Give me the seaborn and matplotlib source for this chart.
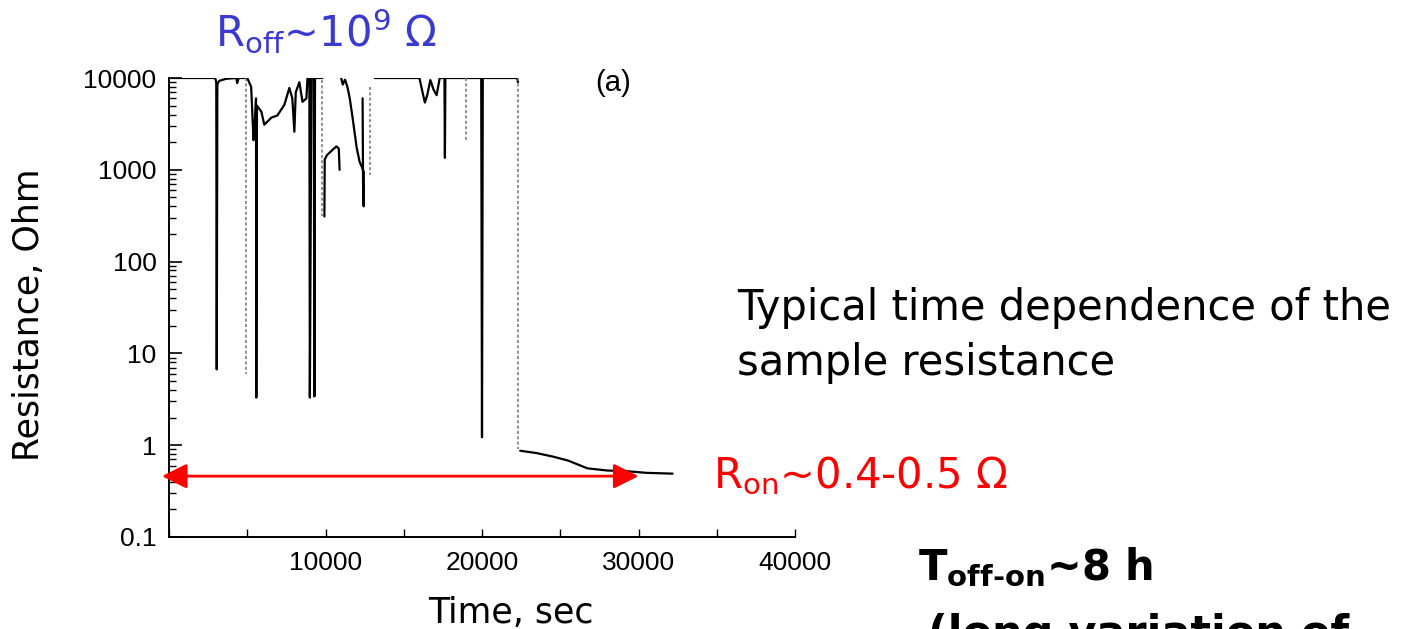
import pandas as pd
import matplotlib
matplotlib.use('Agg')
import matplotlib.pyplot as plt
import seaborn as sns
from matplotlib.ticker import FixedLocator, FixedFormatter, LogLocator, NullFormatter

# Сплошные участки записи R(t): время, сек / сопротивление, Ом
t_seg1 = [150, 2950, 3020, 3050, 3090, 3200, 3650, 4300, 4360, 4450, 5000, 5250, 5400,
          5480, 5560, 5580, 5620, 5900, 6090, 6540, 6920, 7370, 7690, 7880, 8010, 8100,
          8330, 8530, 8780, 8850, 8970, 9000, 9100, 9250, 9290, 9330, 9800]
r_seg1 = [10000, 10000, 9000, 6.7, 8500, 9300, 9800, 10000, 8800, 10000, 10000, 8000, 2100,
          3200, 6000, 3.3, 5000, 4300, 3100, 3700, 3900, 5100, 7800, 6000, 2600, 7000,
          9000, 5500, 6000, 10000, 10000, 3.3, 10000, 10000, 3.4, 10000, 10000]

t_seg2 = [9930, 9950, 10100, 10450, 10700, 10850, 10900]
r_seg2 = [310, 1300, 1450, 1650, 1800, 1700, 1000]

t_seg3 = [11000, 11100, 11250, 11400, 11550, 11730, 11990, 12180, 12350, 12440, 12440, 12400, 12370]
r_seg3 = [10000, 8500, 9600, 8000, 6000, 3700, 1750, 1220, 1050, 950, 400, 700, 6000]

t_seg4 = [13150, 16000, 16200, 16350, 16500, 16700, 16900, 17100, 17300, 17600, 17630, 17660,
          19950, 20000, 20050, 22240, 22300]
r_seg4 = [10000, 10000, 7000, 5400, 6500, 9500, 7500, 6500, 10000, 10000, 1350, 10000,
          10000, 1.22, 10000, 10000, 9000]

# низкоомное состояние
t_seg5 = [22440, 23500, 24550, 25500, 26730, 28000, 29300, 30500, 32180]
r_seg5 = [0.87, 0.82, 0.75, 0.68, 0.56, 0.53, 0.52, 0.50, 0.49]

# бледные пунктирные переходы
t_faint = [4950, 9800, 12820, 18970, 22310]
r_faint_top = [10000, 9500, 8000, 10000, 10000]
r_faint_bottom = [5.9, 310, 880, 2000, 0.9]

# Подписи осей
y_ticks = [0.1, 1, 10, 100, 1000, 10000]
y_tick_labels = ['0.1', '1', '10', '100', '1000', '10000']
x_ticks = [0, 5000, 10000, 15000, 20000, 25000, 30000, 35000, 40000]
x_tick_labels = ['', '', '10000', '', '20000', '', '30000', '', '40000']

r_on_level = 0.46
arrow_start, arrow_end = -450, 30000

# Сборка таблиц для seaborn
segments = [(t_seg1, r_seg1), (t_seg2, r_seg2), (t_seg3, r_seg3), (t_seg4, r_seg4), (t_seg5, r_seg5)]
rows = []
for i, (ts, rs) in enumerate(segments):
    for t, r in zip(ts, rs):
        rows.append({'time': t, 'res': r, 'seg': i})
df = pd.DataFrame(rows)

faint_rows = []
for i, t in enumerate(t_faint):
    faint_rows.append({'time': t, 'res': r_faint_top[i], 'seg': i})
    faint_rows.append({'time': t, 'res': r_faint_bottom[i], 'seg': i})
df_faint = pd.DataFrame(faint_rows)

sns.set_style('ticks')
plt.rcParams['font.family'] = ['DejaVu Sans']
plt.rcParams['mathtext.fontset'] = 'dejavusans'
for key in ['text.color', 'axes.labelcolor', 'xtick.color', 'ytick.color', 'axes.edgecolor']:
    plt.rcParams[key] = 'black'

W, H = 1416, 629
fig = plt.figure(figsize=(W / 100, H / 100), dpi=100)
ax = fig.add_axes([169 / W, 1 - 537 / H, 626 / W, 459 / H])

sns.lineplot(data=df, x='time', y='res', units='seg', estimator=None, sort=False,
             color='black', lw=1.6, legend=False, ax=ax)
sns.lineplot(data=df_faint, x='time', y='res', units='seg', estimator=None, sort=False,
             color='0.45', lw=1.1, linestyle=(0, (2, 1.5)), legend=False, ax=ax)

ax.set_yscale('log')
ax.set_ylim(0.1, 10000)
ax.set_xlim(0, 40000)
sns.despine(ax=ax)
for s in ['left', 'bottom']:
    ax.spines[s].set_linewidth(1.4)
    ax.spines[s].set_color('black')

ax.yaxis.set_major_locator(FixedLocator(y_ticks))
ax.yaxis.set_major_formatter(FixedFormatter(y_tick_labels))
ax.yaxis.set_minor_locator(LogLocator(base=10, subs=range(2, 10)))
ax.yaxis.set_minor_formatter(NullFormatter())
ax.xaxis.set_major_locator(FixedLocator(x_ticks))
ax.xaxis.set_major_formatter(FixedFormatter(x_tick_labels))

ax.tick_params(axis='y', which='major', direction='in', length=9, width=1.2, pad=9)
ax.tick_params(axis='y', which='minor', direction='in', length=5, width=1.0)
ax.tick_params(axis='x', which='major', direction='in', length=6, width=1.0, pad=10)
for lab in ax.get_xticklabels() + ax.get_yticklabels():
    lab.set_fontfamily('Liberation Sans')
    lab.set_fontsize(19)
    lab.set_color('black')

ax.set_xlabel('Time, sec', fontsize=25, family='DejaVu Sans')
ax.set_ylabel('Resistance, Ohm', fontsize=25, family='DejaVu Sans')
ax.xaxis.set_label_coords(0.546, -0.128)
ax.yaxis.set_label_coords(-0.196, 0.484)

ax.text(0.709, 0.99, '(a)', transform=ax.transAxes, ha='center', va='center',
        fontsize=21, family='Liberation Sans')

# Красная двойная стрелка R_on
ax.annotate('', xy=(arrow_start, r_on_level), xytext=(arrow_end, r_on_level),
            arrowprops=dict(arrowstyle='<|-|>', color='red', lw=2, mutation_scale=38,
                            shrinkA=0, shrinkB=0),
            annotation_clip=False)

# Текст слайда
fig.text(215 / W, 1 - 46 / H, r'R$_{\mathregular{off}}$~10$^{\mathregular{9}}$ Ω',
         color='#3a3ad0', fontsize=30, va='baseline')
fig.text(737 / W, 1 - 320 / H, 'Typical time dependence of the', fontsize=30, va='baseline')
fig.text(737 / W, 1 - 375 / H, 'sample resistance', fontsize=30, va='baseline')
fig.text(713 / W, 1 - 488 / H, r'R$_{\mathregular{on}}$~0.4-0.5 Ω',
         color='red', fontsize=30, va='baseline')
fig.text(918 / W, 1 - 580 / H, '$\\mathbf{T}_{\\mathbf{off\u2010on}}$~8 h',
         fontsize=30, weight='bold', va='baseline')
fig.text(928 / W, 1 - 646 / H, '(long variation of', fontsize=31, weight='bold', va='baseline')

plt.savefig('out.png', dpi=100)
